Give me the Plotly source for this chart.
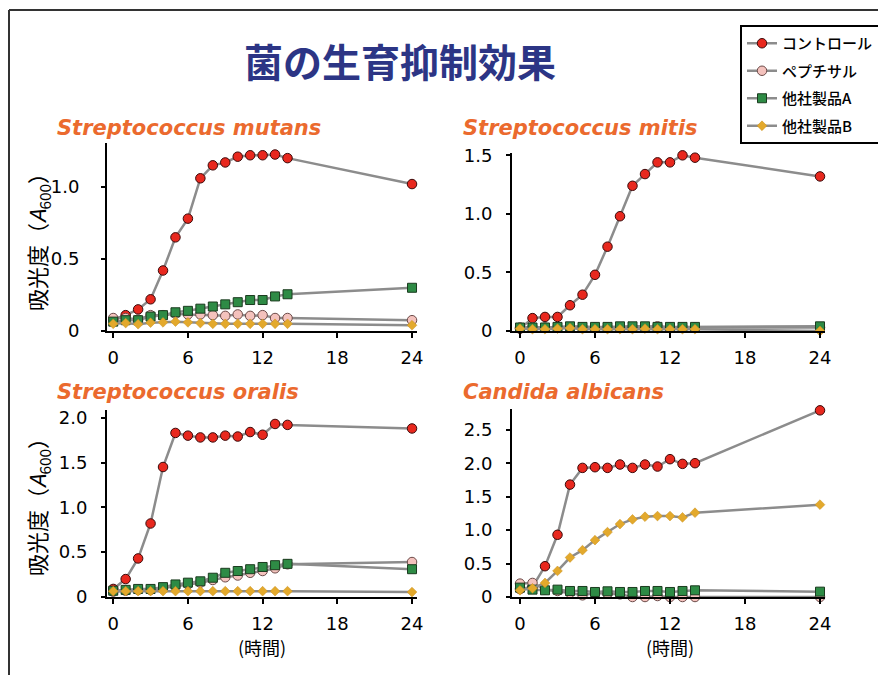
import plotly.graph_objects as go

# ---------------- data ----------------
HOURS = [0, 1, 2, 3, 4, 5, 6, 7, 8, 9, 10, 11, 12, 13, 14, 24]
X_TICKS = [0, 6, 12, 18, 24]
SERIES_NAMES = ["コントロール", "ペプチサル", "他社製品A", "他社製品B"]
PANEL_TITLES = ["Streptococcus mutans", "Streptococcus mitis",
                "Streptococcus oralis", "Candida albicans"]

MUTANS_CONTROL = [0.08, 0.11, 0.15, 0.22, 0.42, 0.65, 0.78, 1.06, 1.15, 1.17, 1.21, 1.22, 1.22, 1.225, 1.20, 1.02]
MUTANS_PEPTISAL = [0.09, 0.09, 0.08, 0.11, 0.11, 0.12, 0.115, 0.115, 0.11, 0.105, 0.115, 0.105, 0.11, 0.09, 0.09, 0.075]
MUTANS_A = [0.065, 0.075, 0.075, 0.10, 0.11, 0.13, 0.14, 0.155, 0.17, 0.185, 0.20, 0.215, 0.215, 0.24, 0.255, 0.30]
MUTANS_B = [0.05, 0.055, 0.047, 0.058, 0.06, 0.065, 0.06, 0.055, 0.05, 0.05, 0.05, 0.05, 0.05, 0.05, 0.05, 0.04]

MITIS_CONTROL = [0.02, 0.11, 0.12, 0.12, 0.22, 0.31, 0.48, 0.72, 0.98, 1.24, 1.34, 1.44, 1.44, 1.50, 1.48, 1.32]
MITIS_PEPTISAL = [0.03, 0.03, 0.03, 0.03, 0.03, 0.03, 0.03, 0.03, 0.03, 0.03, 0.03, 0.04, 0.03, 0.03, 0.03, 0.03]
MITIS_A = [0.03, 0.03, 0.03, 0.035, 0.04, 0.035, 0.035, 0.035, 0.04, 0.04, 0.04, 0.035, 0.035, 0.035, 0.035, 0.04]
MITIS_B = [0.02, 0.015, 0.015, 0.02, 0.025, 0.015, 0.015, 0.015, 0.015, 0.015, 0.02, 0.015, 0.015, 0.015, 0.015, 0.0]

ORALIS_CONTROL = [0.09, 0.20, 0.43, 0.82, 1.45, 1.83, 1.80, 1.78, 1.78, 1.80, 1.79, 1.84, 1.81, 1.93, 1.92, 1.88]
ORALIS_PEPTISAL = [0.06, 0.07, 0.08, 0.08, 0.10, 0.12, 0.14, 0.16, 0.19, 0.22, 0.24, 0.27, 0.29, 0.32, 0.365, 0.39]
ORALIS_A = [0.07, 0.08, 0.09, 0.09, 0.11, 0.14, 0.16, 0.175, 0.215, 0.27, 0.29, 0.31, 0.335, 0.355, 0.37, 0.31]
ORALIS_B = [0.065, 0.065, 0.065, 0.065, 0.065, 0.065, 0.065, 0.065, 0.065, 0.065, 0.065, 0.065, 0.065, 0.065, 0.065, 0.055]

ALBICANS_CONTROL = [0.12, 0.15, 0.46, 0.93, 1.68, 1.93, 1.94, 1.93, 1.98, 1.93, 1.98, 1.95, 2.06, 1.99, 2.00, 2.79]
ALBICANS_PEPTISAL = [0.20, 0.21, 0.11, 0.09, 0.06, 0.025, 0.06, 0.05, 0.04, 0.0, 0.0, 0.015, 0.0, 0.0, 0.0, 0.0]
ALBICANS_A = [0.14, 0.11, 0.10, 0.11, 0.09, 0.09, 0.075, 0.085, 0.075, 0.075, 0.09, 0.09, 0.075, 0.09, 0.10, 0.08]
ALBICANS_B = [0.10, 0.13, 0.21, 0.39, 0.59, 0.70, 0.85, 0.97, 1.09, 1.16, 1.20, 1.21, 1.21, 1.19, 1.26, 1.38]

Y_TICKS_1 = [0, 0.5, 1.0]
Y_TICKS_2 = [0, 0.5, 1.0, 1.5]
Y_TICKS_3 = [0, 0.5, 1.0, 1.5, 2.0]
Y_TICKS_4 = [0, 0.5, 1.0, 1.5, 2.0, 2.5]

PANELS = [
    [MUTANS_CONTROL, MUTANS_PEPTISAL, MUTANS_A, MUTANS_B],
    [MITIS_CONTROL, MITIS_PEPTISAL, MITIS_A, MITIS_B],
    [ORALIS_CONTROL, ORALIS_PEPTISAL, ORALIS_A, ORALIS_B],
    [ALBICANS_CONTROL, ALBICANS_PEPTISAL, ALBICANS_A, ALBICANS_B],
]
Y_TICK_SETS = [Y_TICKS_1, Y_TICKS_2, Y_TICKS_3, Y_TICKS_4]

# ---------------- styles ----------------
W, H = 886, 675
OFF = 8  # page offset of the figure (default body margin)
STYLES = [
    dict(symbol="circle", size=9.5, color="#e8281e", line=dict(color="#3a0a0a", width=1)),
    dict(symbol="circle", size=9.5, color="#f4c2bd", line=dict(color="#6b4a48", width=1)),
    dict(symbol="square", size=9, color="#2e8b45", line=dict(color="#1b3b1f", width=1)),
    dict(symbol="diamond", size=7.5, color="#e3a92c", line=dict(color="#c88f1c", width=0.5)),
]
LINE_COLOR = "#8c8c8c"
TITLE_ORANGE = "#eb6a2e"

def px_x(p):
    return (p - OFF) / W

def px_y(p):
    return 1 - (p - OFF) / H

# pixel layout of panels (page coords): (x_left, x_right, y_top, y_bottom, x_range, y_top_value)
GEOM = [
    (107, 417, 143, 331, [-0.5, 24.4], 1.305),
    (512, 825, 153, 331, [-0.64, 24.4], 1.52),
    (107, 417, 410, 597, [-0.5, 24.4], 2.086),
    (512, 825, 409, 597, [-0.64, 24.4], 2.81),
]
Y_STANDOFF = [18, 10, 10, 10]

fig = go.Figure()

for i, series in enumerate(PANELS):
    sfx = "" if i == 0 else str(i + 1)
    for j, vals in enumerate(series):
        fig.add_trace(go.Scatter(
            x=HOURS, y=vals, mode="lines+markers",
            name=SERIES_NAMES[j], legendgroup=SERIES_NAMES[j],
            showlegend=(i == 0),
            line=dict(color=LINE_COLOR, width=2.5),
            marker=STYLES[j],
            cliponaxis=False,
            xaxis="x" + sfx, yaxis="y" + sfx,
        ))

axis_font = dict(family="DejaVu Sans", size=18, color="black")
layout_axes = {}
for i, (xl, xr, yt, yb, xr_range, ytop) in enumerate(GEOM):
    sfx = "" if i == 0 else str(i + 1)
    ticks = Y_TICK_SETS[i]
    layout_axes["xaxis" + sfx] = dict(
        domain=[px_x(xl), px_x(xr)], range=xr_range, anchor="y" + sfx,
        showline=True, linecolor="black", linewidth=2,
        ticks="outside", ticklen=5, tickwidth=2, tickcolor="black",
        tickvals=X_TICKS, tickfont=axis_font, ticklabelstandoff=4,
        showgrid=False, zeroline=False, fixedrange=True,
    )
    layout_axes["yaxis" + sfx] = dict(
        domain=[px_y(yb), px_y(yt)], range=[0, ytop], anchor="x" + sfx,
        showline=True, linecolor="black", linewidth=2,
        ticks="outside", ticklen=4, tickwidth=2, tickcolor="black",
        tickvals=ticks, ticktext=["0" if t == 0 else f"{t:.1f}" for t in ticks],
        tickfont=axis_font, ticklabelstandoff=Y_STANDOFF[i],
        showgrid=False, zeroline=False, fixedrange=True,
    )

annotations = [
    dict(text="<b>菌の生育抑制効果</b>", x=px_x(400), y=px_y(60), xref="paper", yref="paper",
         showarrow=False, xanchor="center", yanchor="middle",
         font=dict(family="Noto Sans CJK JP", size=39, color="#2c3585")),
]
TITLE_POS = [(55, 128), (461, 128), (55, 392), (461, 392)]
for (tx, ty), t in zip(TITLE_POS, PANEL_TITLES):
    annotations.append(dict(
        text=f"<b><i>{t}</i></b>", x=px_x(tx), y=px_y(ty), xref="paper", yref="paper",
        showarrow=False, xanchor="left", yanchor="middle",
        font=dict(family="DejaVu Sans", size=21, color=TITLE_ORANGE)))
for ty in (237, 502):
    annotations.append(dict(
        text="吸光度（<i>A</i><sub>600</sub>）", x=px_x(37), y=px_y(ty), xref="paper", yref="paper",
        showarrow=False, xanchor="center", yanchor="middle", textangle=-90,
        font=dict(family="Noto Sans CJK JP", size=22, color="black")))
for tx in (262, 670):
    annotations.append(dict(
        text="(時間)", x=px_x(tx), y=px_y(647), xref="paper", yref="paper",
        showarrow=False, xanchor="center", yanchor="middle",
        font=dict(family="Noto Sans CJK JP", size=18, color="black")))

shapes = [
    dict(type="line", xref="paper", yref="paper", x0=px_x(9), x1=px_x(9), y0=px_y(10), y1=-0.1,
         line=dict(color="#333333", width=2)),
    dict(type="line", xref="paper", yref="paper", x0=px_x(9), x1=1.1, y0=px_y(10), y1=px_y(10),
         line=dict(color="#333333", width=2)),
]

fig.update_layout(
    width=W, height=H, margin=dict(l=0, r=0, t=0, b=0, autoexpand=False),
    paper_bgcolor="white", plot_bgcolor="rgba(0,0,0,0)",
    annotations=annotations, shapes=shapes,
    legend=dict(x=px_x(740), y=px_y(25), xanchor="left", yanchor="top",
                bgcolor="white", bordercolor="black", borderwidth=2,
                font=dict(family="Noto Sans CJK JP", size=15, color="black", weight=500),
                tracegroupgap=5, itemwidth=30),
    **layout_axes,
)

fig.write_html("out.html")
